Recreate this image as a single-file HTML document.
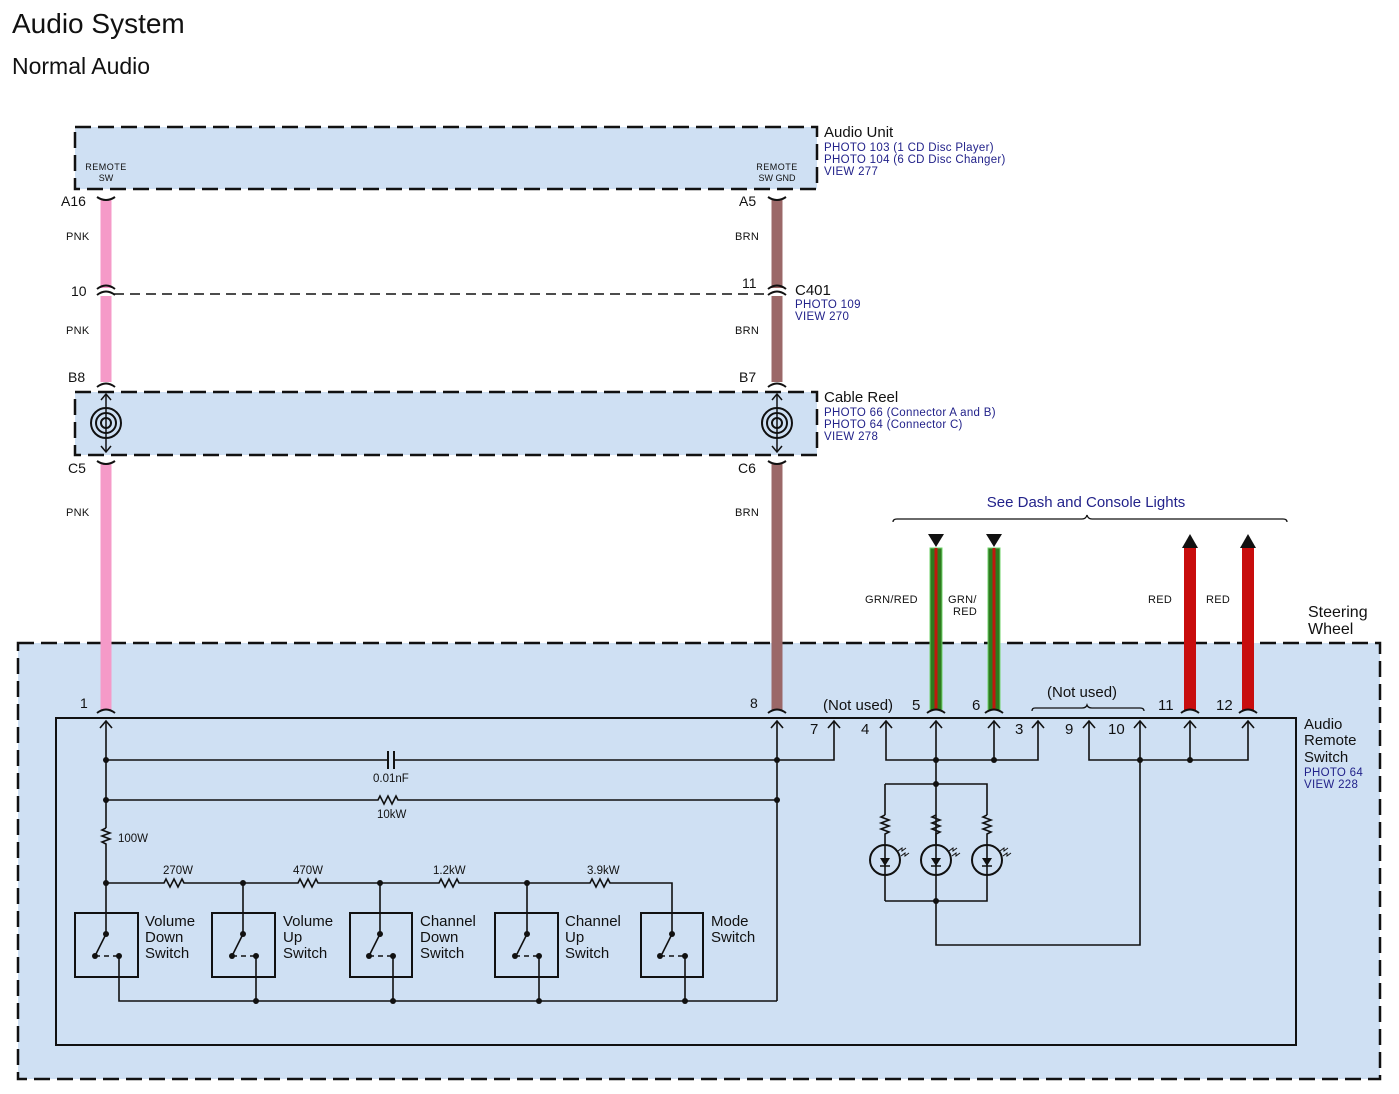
<!DOCTYPE html>
<html><head><meta charset="utf-8"><style>
html,body{margin:0;padding:0;background:#fff;}
svg{display:block;font-family:"Liberation Sans",sans-serif;}
</style></head><body>
<svg width="1399" height="1094" viewBox="0 0 1399 1094" xmlns="http://www.w3.org/2000/svg">
<text x="12" y="33" font-size="28" fill="#111">Audio System</text>
<text x="12" y="74" font-size="23" fill="#111">Normal Audio</text>

<rect x="75" y="127" width="742" height="62" fill="#cfe0f3" stroke="#111" stroke-width="2.5" stroke-dasharray="16,7"/>
<text x="106" y="170" font-size="9" text-anchor="middle" fill="#111" letter-spacing="0.5">REMOTE</text>
<text x="106" y="181" font-size="9" text-anchor="middle" fill="#111">SW</text>
<text x="777" y="170" font-size="9" text-anchor="middle" fill="#111" letter-spacing="0.5">REMOTE</text>
<text x="777" y="181" font-size="9" text-anchor="middle" fill="#111">SW GND</text>
<text x="824" y="137" font-size="15" fill="#111">Audio Unit</text>
<g font-size="11.5" fill="#22228a" letter-spacing="0.3">
<text x="824" y="151">PHOTO 103 (1 CD Disc Player)</text>
<text x="824" y="163">PHOTO 104 (6 CD Disc Changer)</text>
<text x="824" y="175">VIEW 277</text>
</g>

<rect x="18" y="643" width="1362" height="436" fill="#cfe0f3" stroke="#111" stroke-width="2.5" stroke-dasharray="16,7"/>
<text x="1308" y="617" font-size="16" fill="#111">Steering</text>
<text x="1308" y="634" font-size="16" fill="#111">Wheel</text>

<rect x="75" y="392" width="742" height="63" fill="#cfe0f3" stroke="#111" stroke-width="2.5" stroke-dasharray="16,7"/>
<text x="824" y="402" font-size="15" fill="#111">Cable Reel</text>
<g font-size="11.5" fill="#22228a" letter-spacing="0.3">
<text x="824" y="416">PHOTO 66 (Connector A and B)</text>
<text x="824" y="428">PHOTO 64 (Connector C)</text>
<text x="824" y="440">VIEW 278</text>
</g>

<line x1="114" y1="294" x2="770" y2="294" stroke="#111" stroke-width="1.5" stroke-dasharray="10,6"/>
<text x="795" y="295" font-size="15" fill="#111">C401</text>
<text x="795" y="308" font-size="11.5" fill="#22228a" letter-spacing="0.3">PHOTO 109</text>
<text x="795" y="320" font-size="11.5" fill="#22228a" letter-spacing="0.3">VIEW 270</text>

<g fill="none">
<line x1="106" y1="200" x2="106" y2="288" stroke="#f59ac8" stroke-width="11"/>
<line x1="106" y1="296" x2="106" y2="382" stroke="#f59ac8" stroke-width="11"/>
<line x1="106" y1="464" x2="106" y2="710" stroke="#f59ac8" stroke-width="11"/>
<line x1="777" y1="200" x2="777" y2="288" stroke="#9b6868" stroke-width="11"/>
<line x1="777" y1="296" x2="777" y2="382" stroke="#9b6868" stroke-width="11"/>
<line x1="777" y1="464" x2="777" y2="710" stroke="#9b6868" stroke-width="11"/>
<rect x="930" y="548" width="12" height="162" fill="#2e7a1e" stroke="#6fd36a" stroke-width="1"/>
<line x1="936" y1="548" x2="936" y2="710" stroke="#c0190e" stroke-width="3"/>
<rect x="988" y="548" width="12" height="162" fill="#2e7a1e" stroke="#6fd36a" stroke-width="1"/>
<line x1="994" y1="548" x2="994" y2="710" stroke="#c0190e" stroke-width="3"/>
<line x1="1190" y1="546" x2="1190" y2="710" stroke="#c80d0d" stroke-width="12"/>
<line x1="1248" y1="546" x2="1248" y2="710" stroke="#c80d0d" stroke-width="12"/>
</g>
<polygon points="928,534 944,534 936,547" fill="#111"/>
<polygon points="986,534 1002,534 994,547" fill="#111"/>
<polygon points="1182,548 1198,548 1190,534" fill="#111"/>
<polygon points="1240,548 1256,548 1248,534" fill="#111"/>

<g fill="none" stroke="#111" stroke-width="2">
<path d="M97,197 Q106,203 115,197"/><path d="M768,197 Q777,203 786,197"/>
<path d="M97,289 Q106,282 115,289"/><path d="M97,295 Q106,288 115,295"/>
<path d="M768,289 Q777,282 786,289"/><path d="M768,295 Q777,288 786,295"/>
<path d="M97,387 Q106,380 115,387"/><path d="M768,387 Q777,380 786,387"/>
<path d="M97,461 Q106,467 115,461"/><path d="M768,461 Q777,467 786,461"/>
<path d="M97,713 Q106,706 115,713"/><path d="M768,713 Q777,706 786,713"/>
<path d="M927,713 Q936,706 945,713"/><path d="M985,713 Q994,706 1003,713"/>
<path d="M1181,713 Q1190,706 1199,713"/><path d="M1239,713 Q1248,706 1257,713"/>
<circle cx="106" cy="423" r="15"/><circle cx="106" cy="423" r="10"/><circle cx="106" cy="423" r="5"/>
<circle cx="777" cy="423" r="15"/><circle cx="777" cy="423" r="10"/><circle cx="777" cy="423" r="5"/>
<line x1="106" y1="394" x2="106" y2="452" stroke-width="1.5"/>
<line x1="777" y1="394" x2="777" y2="452" stroke-width="1.5"/>
<path d="M101,400 L106,394 L111,400 M101,446 L106,452 L111,446" stroke-width="1.5"/>
<path d="M772,400 L777,394 L782,400 M772,446 L777,452 L782,446" stroke-width="1.5"/>
<path d="M893,522 Q893,519 897,519 L1082,519 Q1086,519 1087,515 Q1088,519 1092,519 L1283,519 Q1287,519 1287,522" stroke-width="1.3"/>
<path d="M1032,711 Q1032,708 1035,708 L1082,708 Q1086,708 1087,705 Q1088,708 1092,708 L1140,708 Q1144,708 1144,711" stroke-width="1.3"/>
</g>
<text x="1086" y="507" font-size="15" text-anchor="middle" fill="#22228a">See Dash and Console Lights</text>

<g font-size="14" fill="#111">
<text x="61" y="206">A16</text><text x="739" y="206">A5</text>
<text x="71" y="296">10</text><text x="742" y="288">11</text>
<text x="68" y="382">B8</text><text x="739" y="382">B7</text>
<text x="68" y="473">C5</text><text x="738" y="473">C6</text>
<text x="80" y="708">1</text><text x="750" y="708">8</text>
<text x="823" y="710" font-size="15">(Not used)</text>
<text x="912" y="710" font-size="15">5</text><text x="972" y="710" font-size="15">6</text>
<text x="1047" y="697" font-size="15">(Not used)</text>
<text x="1158" y="710" font-size="15">11</text><text x="1216" y="710" font-size="15">12</text>
<text x="810" y="734" font-size="15">7</text><text x="861" y="734" font-size="15">4</text>
<text x="1015" y="734" font-size="15">3</text><text x="1065" y="734" font-size="15">9</text>
<text x="1108" y="734" font-size="15">10</text>
</g>
<g font-size="11" fill="#111" letter-spacing="0.3">
<text x="66" y="240">PNK</text><text x="66" y="334">PNK</text><text x="66" y="516">PNK</text>
<text x="735" y="240">BRN</text><text x="735" y="334">BRN</text><text x="735" y="516">BRN</text>
<text x="865" y="603">GRN/RED</text>
<text x="948" y="603">GRN/</text><text x="953" y="615">RED</text>
<text x="1148" y="603">RED</text><text x="1206" y="603">RED</text>
</g>

<rect x="56" y="718" width="1240" height="327" fill="none" stroke="#111" stroke-width="2"/>
<text x="1304" y="729" font-size="15" fill="#111">Audio</text>
<text x="1304" y="745" font-size="15" fill="#111">Remote</text>
<text x="1304" y="762" font-size="15" fill="#111">Switch</text>
<text x="1304" y="776" font-size="11.5" fill="#22228a" letter-spacing="0.3">PHOTO 64</text>
<text x="1304" y="788" font-size="11.5" fill="#22228a" letter-spacing="0.3">VIEW 228</text>

<g fill="none" stroke="#111" stroke-width="1.6">
<path d="M100,728 L106,721 L112,728 M771,728 L777,721 L783,728 M828,728 L834,721 L840,728 M880,728 L886,721 L892,728 M930,728 L936,721 L942,728 M988,728 L994,721 L1000,728 M1032,728 L1038,721 L1044,728 M1083,728 L1089,721 L1095,728 M1134,728 L1140,721 L1146,728 M1184,728 L1190,721 L1196,728 M1242,728 L1248,721 L1254,728"/>
<path d="M106,721 V828 M106,846 V913"/>
<path d="M106,828 l-4,2 l8,3 l-8,3 l8,3 l-8,3 l4,2 V846"/>
<path d="M777,721 V1001 M834,721 V760 H394 M388,760 H106"/>
<path d="M388,751 V769 M394,751 V769" stroke-width="2"/>
<path d="M106,800 H378 l2,-4 l4,8 l4,-8 l4,8 l4,-8 l2,4 H777"/>
<path d="M106,883 H164 l2,-4 l4,8 l4,-8 l4,8 l4,-8 l2,4 H298 l2,-4 l4,8 l4,-8 l4,8 l4,-8 l2,4 H439 l2,-4 l4,8 l4,-8 l4,8 l4,-8 l2,4 H590 l2,-4 l4,8 l4,-8 l4,8 l4,-8 l2,4 H672 V934"/>
<path d="M243,883 V934 M380,883 V934 M527,883 V934 M106,913 V934"/>
<path d="M119,956 V1001 H777 M256,956 V1001 M393,956 V1001 M539,956 V1001 M685,956 V1001"/>
<g stroke-width="2">
<rect x="75" y="913" width="63" height="64"/><rect x="212" y="913" width="63" height="64"/>
<rect x="350" y="913" width="62" height="64"/><rect x="495" y="913" width="63" height="64"/>
<rect x="641" y="913" width="62" height="64"/>
</g>
<path d="M106,934 L96,954 M243,934 L233,954 M380,934 L370,954 M527,934 L517,954 M672,934 L662,954"/>
<path d="M95,956 H119 M232,956 H256 M369,956 H393 M515,956 H539 M660,956 H685" stroke-dasharray="5,4"/>
<path d="M886,721 V760 H1038 V721 M936,721 V945 H1140 V721 M994,721 V760 M1089,721 V760 H1248 V721 M1190,721 V760"/>
<path d="M885,784 H987 V815 M885,784 V815 M885,901 H987 V875 M885,901 V875"/>
<path d="M885,815 l-4,2 l8,3 l-8,3 l8,3 l-8,3 l8,3 l-4,2 V845 M936,815 l-4,2 l8,3 l-8,3 l8,3 l-8,3 l8,3 l-4,2 V845 M987,815 l-4,2 l8,3 l-8,3 l8,3 l-8,3 l8,3 l-4,2 V845"/>
<circle cx="885" cy="860" r="15" stroke-width="2"/><circle cx="936" cy="860" r="15" stroke-width="2"/><circle cx="987" cy="860" r="15" stroke-width="2"/>
<path d="M885,845 V875 M987,845 V875 M880,866 H890 M931,866 H941 M982,866 H992"/>
<path d="M898,851 l4,-3 l0,3 l4,-3 M901,856 l4,-3 l0,3 l4,-3 M949,851 l4,-3 l0,3 l4,-3 M952,856 l4,-3 l0,3 l4,-3 M1000,851 l4,-3 l0,3 l4,-3 M1003,856 l4,-3 l0,3 l4,-3" stroke-width="1"/>
</g>
<g fill="#111">
<polygon points="880,858 890,858 885,866"/><polygon points="931,858 941,858 936,866"/><polygon points="982,858 992,858 987,866"/>
<circle cx="106" cy="760" r="3"/><circle cx="777" cy="760" r="3"/>
<circle cx="106" cy="800" r="3"/><circle cx="777" cy="800" r="3"/>
<circle cx="106" cy="883" r="3"/><circle cx="243" cy="883" r="3"/><circle cx="380" cy="883" r="3"/><circle cx="527" cy="883" r="3"/>
<circle cx="256" cy="1001" r="3"/><circle cx="393" cy="1001" r="3"/><circle cx="539" cy="1001" r="3"/><circle cx="685" cy="1001" r="3"/>
<circle cx="106" cy="934" r="3"/><circle cx="243" cy="934" r="3"/><circle cx="380" cy="934" r="3"/><circle cx="527" cy="934" r="3"/><circle cx="672" cy="934" r="3"/>
<circle cx="95" cy="956" r="3"/><circle cx="119" cy="956" r="3"/><circle cx="232" cy="956" r="3"/><circle cx="256" cy="956" r="3"/>
<circle cx="369" cy="956" r="3"/><circle cx="393" cy="956" r="3"/><circle cx="515" cy="956" r="3"/><circle cx="539" cy="956" r="3"/>
<circle cx="660" cy="956" r="3"/><circle cx="685" cy="956" r="3"/>
<circle cx="936" cy="760" r="3"/><circle cx="994" cy="760" r="3"/><circle cx="936" cy="784" r="3"/><circle cx="936" cy="901" r="3"/>
<circle cx="1140" cy="760" r="3"/><circle cx="1190" cy="760" r="3"/>
</g>
<g font-size="11.5" fill="#111">
<text x="373" y="782">0.01nF</text><text x="377" y="818">10kW</text>
<text x="118" y="842">100W</text>
<text x="163" y="874">270W</text><text x="293" y="874">470W</text><text x="433" y="874">1.2kW</text><text x="587" y="874">3.9kW</text>
</g>
<g font-size="15" fill="#111">
<text x="145" y="926">Volume</text><text x="145" y="942">Down</text><text x="145" y="958">Switch</text>
<text x="283" y="926">Volume</text><text x="283" y="942">Up</text><text x="283" y="958">Switch</text>
<text x="420" y="926">Channel</text><text x="420" y="942">Down</text><text x="420" y="958">Switch</text>
<text x="565" y="926">Channel</text><text x="565" y="942">Up</text><text x="565" y="958">Switch</text>
<text x="711" y="926">Mode</text><text x="711" y="942">Switch</text>
</g>
</svg>
</body></html>
